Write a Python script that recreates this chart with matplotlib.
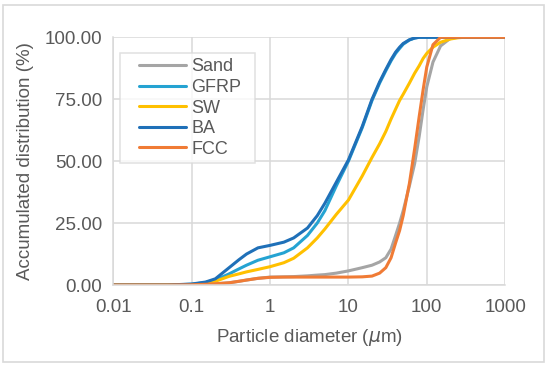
import matplotlib
matplotlib.use('Agg')
import matplotlib.pyplot as plt
from matplotlib.patches import Rectangle
from matplotlib.legend_handler import HandlerLine2D
from matplotlib.lines import Line2D

plt.rcParams['font.family'] = ['Liberation Sans', 'DejaVu Sans']

TEXT_COLOR = '#595959'
GRID_COLOR = '#D9D9D9'

# particle diameters (um) at which the curves were read
sizes = [0.01, 0.02, 0.05, 0.1, 0.15, 0.2, 0.3, 0.4, 0.5, 0.7, 1, 1.5, 2, 3, 4, 5, 7, 10,
         15, 20, 25, 30, 35, 40, 45, 50, 60, 70, 80, 90, 100, 120, 150, 200, 250, 300, 500, 1000]

# accumulated distribution (%)
sand = [0, 0, 0, 0.1, 0.3, 0.5, 0.9, 1.5, 2.0, 2.7, 3.2, 3.3, 3.4, 3.7, 4.0, 4.2, 4.8, 5.7,
        7.0, 8.0, 9.3, 11.0, 14.5, 20.0, 25.0, 30.0, 40.0, 49.0, 60.0, 71.0, 80.0, 90.0, 96.5, 99.6, 100, 100, 100, 100]
gfrp = [0, 0, 0, 0.3, 1.0, 2.0, 4.5, 6.5, 8.0, 10.0, 11.4, 13.0, 15.0, 20.0, 25.0, 30.0, 40.0, 50.0,
        63.5, 74.5, 81.5, 86.5, 90.5, 93.5, 95.5, 97.2, 98.9, 99.7, 100, 100, 100, 100, 100, 100, 100, 100, 100, 100]
sw = [0, 0, 0, 0.2, 0.8, 1.5, 3.5, 4.5, 5.3, 6.3, 7.4, 9.0, 10.8, 15.0, 19.0, 22.6, 28.5, 34.3,
      44.0, 51.5, 57.0, 62.0, 67.0, 71.0, 74.5, 77.0, 81.5, 85.5, 88.5, 91.5, 93.5, 96.0, 98.0, 99.3, 99.8, 100, 100, 100]
ba = [0, 0, 0, 0.4, 1.2, 2.5, 7.0, 10.2, 12.5, 15.0, 16.0, 17.3, 19.0, 23.0, 28.0, 33.0, 41.5, 50.5,
      64.0, 75.0, 82.0, 87.0, 91.0, 94.0, 96.0, 97.5, 99.0, 99.7, 100, 100, 100, 100, 100, 100, 100, 100, 100, 100]
fcc = [0, 0, 0, 0.1, 0.3, 0.5, 0.9, 1.5, 2.0, 2.7, 3.1, 3.2, 3.2, 3.2, 3.2, 3.2, 3.2, 3.2,
       3.3, 3.6, 4.8, 7.0, 11.0, 17.0, 22.0, 28.0, 41.0, 55.0, 68.0, 79.0, 88.0, 97.0, 100, 100, 100, 100, 100, 100]

series = [('Sand', sand, '#A5A5A5'),
          ('GFRP', gfrp, '#25A3D2'),
          ('SW', sw, '#FFC000'),
          ('BA', ba, '#1F70B8'),
          ('FCC', fcc, '#F07B35')]

fig = plt.figure(figsize=(5.5, 3.67), dpi=100)
ax = fig.add_axes([0.2062, 0.2234, 0.7122, 0.675])

# outer chart border
fig.patches.append(Rectangle((3 / 550, 5 / 367), 541 / 550, 357 / 367, transform=fig.transFigure,
                             fill=False, edgecolor=GRID_COLOR, linewidth=1.2))

for name, vals, col in series:
    ax.plot(sizes, vals, color=col, linewidth=2.2, label=name,
            solid_capstyle='round', solid_joinstyle='round')

ax.set_xscale('log')
ax.set_xlim(0.01, 1000)
ax.set_ylim(0, 100)
ax.set_xticks([0.01, 0.1, 1, 10, 100, 1000])
ax.set_xticklabels(['0.01', '0.1', '1', '10', '100', '1000'])
ax.set_yticks([0, 25, 50, 75, 100])
ax.set_yticklabels(['0.00', '25.00', '50.00', '75.00', '100.00'])
ax.minorticks_off()
ax.grid(True, color=GRID_COLOR, linewidth=1.1)
ax.set_axisbelow(True)
for s in ['top', 'right']:
    ax.spines[s].set_visible(False)
for s in ['left', 'bottom']:
    ax.spines[s].set_color(GRID_COLOR)
    ax.spines[s].set_linewidth(1.1)
ax.tick_params(length=0, labelsize=13.5, labelcolor=TEXT_COLOR, pad=10)
ax.tick_params(axis='y', pad=8)

ax.set_xlabel(r'Particle diameter ($\mu$m)', fontsize=13.5, color=TEXT_COLOR, labelpad=8)
ax.set_ylabel('Accumulated distribution (%)', fontsize=13.5, color=TEXT_COLOR, labelpad=8)

leg = ax.legend(loc='upper left', bbox_to_anchor=(0.017, 0.937, 0.345, 0.0), mode='expand',
                fontsize=13, frameon=True, fancybox=False, handlelength=3.36, handletextpad=0.28,
                labelspacing=0.2, borderpad=0.3, borderaxespad=0,
                handler_map={Line2D: HandlerLine2D(xpad=0.75)})
leg.get_frame().set_edgecolor(GRID_COLOR)
leg.get_frame().set_linewidth(1.1)
for t in leg.get_texts():
    t.set_color(TEXT_COLOR)

fig.savefig('out.png', dpi=100)
